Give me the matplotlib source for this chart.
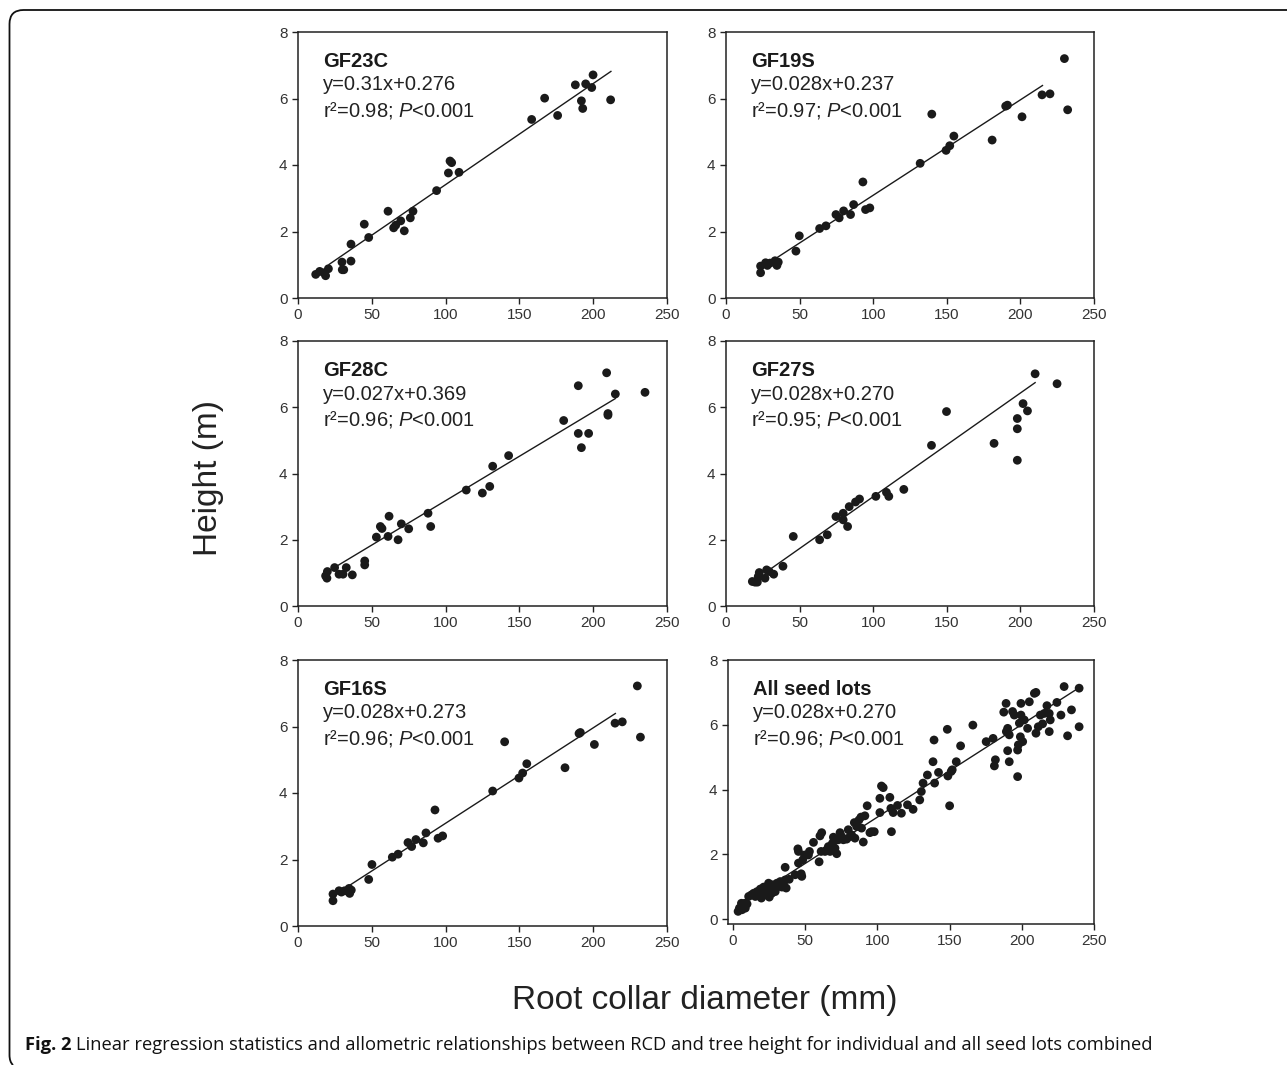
import matplotlib
matplotlib.use('Agg')
import matplotlib.pyplot as plt
from matplotlib.path import Path
from matplotlib.patches import PathPatch

plt.rcParams['font.family'] = ['Liberation Sans', 'DejaVu Sans']
plt.rcParams['mathtext.fontset'] = 'custom'
plt.rcParams['mathtext.rm'] = 'Liberation Sans'
plt.rcParams['mathtext.it'] = 'Liberation Sans:italic'
plt.rcParams['mathtext.bf'] = 'Liberation Sans:bold'

# ---------------- data ----------------
gf23c_x = [12.0, 14.7, 17.6, 18.7, 20.6, 29.8, 30.0, 31.0, 35.9, 35.9, 44.9, 47.9, 61.0, 64.8,
           66.2, 69.6, 72.0, 76.1, 77.9, 93.9, 101.9, 103.0, 104.1, 109.1, 158.3, 167.1, 175.9,
           187.9, 192.0, 192.9, 194.9, 199.0, 199.9, 211.8]
gf23c_y = [0.71, 0.80, 0.76, 0.67, 0.88, 1.08, 0.85, 0.85, 1.62, 1.11, 2.22, 1.82, 2.61, 2.11,
           2.19, 2.32, 2.02, 2.41, 2.61, 3.23, 3.76, 4.12, 4.07, 3.78, 5.37, 6.01, 5.49,
           6.41, 5.93, 5.70, 6.44, 6.33, 6.71, 5.96]

gf19s_x = [23.5, 23.5, 26.9, 28.1, 29.9, 33.3, 34.6, 35.5, 47.5, 49.8, 63.6, 67.9, 74.7, 76.9,
           79.9, 84.6, 86.7, 93.0, 94.8, 97.7, 131.9, 139.8, 149.5, 152.0, 154.8, 180.8,
           190.0, 191.2, 201.1, 214.7, 220.1, 229.9, 232.1]
gf19s_y = [0.76, 0.96, 1.06, 0.98, 1.05, 1.12, 0.98, 1.08, 1.41, 1.87, 2.09, 2.17, 2.51, 2.41,
           2.62, 2.51, 2.81, 3.49, 2.66, 2.71, 4.05, 5.53, 4.44, 4.58, 4.87, 4.75,
           5.77, 5.80, 5.45, 6.11, 6.14, 7.20, 5.66]

gf28c_x = [18.7, 19.6, 19.9, 24.8, 27.8, 30.5, 32.7, 36.8, 45.2, 45.2, 53.1, 55.8, 56.9, 61.0,
           61.7, 67.8, 70.0, 75.0, 88.1, 89.9, 114.0, 124.9, 129.9, 131.9, 142.7, 180.0,
           189.9, 189.9, 192.0, 196.9, 209.1, 210.0, 210.0, 215.0, 235.1]
gf28c_y = [0.91, 0.84, 1.04, 1.16, 0.96, 0.96, 1.16, 0.94, 1.36, 1.24, 2.08, 2.40, 2.34, 2.10,
           2.71, 2.00, 2.48, 2.33, 2.80, 2.40, 3.50, 3.41, 3.61, 4.22, 4.54, 5.60,
           6.65, 5.21, 4.78, 5.21, 7.04, 5.81, 5.76, 6.40, 6.45]

gf27s_x = [17.9, 19.7, 21.3, 21.9, 22.6, 26.5, 27.6, 29.4, 32.4, 38.7, 45.7, 63.6, 68.8, 74.7,
           79.6, 79.6, 82.6, 83.7, 88.0, 90.7, 101.8, 109.0, 110.6, 120.8, 139.6, 149.8,
           182.1, 197.9, 197.9, 197.9, 201.8, 204.8, 210.0, 224.9]
gf27s_y = [0.74, 0.72, 0.72, 0.89, 1.01, 0.84, 1.09, 1.04, 0.96, 1.20, 2.10, 2.00, 2.15, 2.70,
           2.80, 2.60, 2.40, 3.00, 3.14, 3.23, 3.31, 3.43, 3.31, 3.52, 4.85, 5.87,
           4.91, 5.66, 5.35, 4.40, 6.11, 5.89, 7.01, 6.71]

gf16s_x = [23.7, 23.7, 27.8, 29.4, 31.6, 34.6, 35.0, 36.1, 47.9, 50.1, 63.9, 67.8, 74.5, 77.0,
           79.9, 84.9, 86.7, 92.8, 94.9, 98.0, 131.9, 140.0, 149.7, 152.2, 155.0, 180.9,
           190.4, 191.3, 200.8, 214.8, 219.7, 229.9, 232.0]
gf16s_y = [0.76, 0.96, 1.06, 1.02, 1.06, 1.13, 0.98, 1.08, 1.40, 1.85, 2.07, 2.16, 2.51, 2.39,
           2.60, 2.50, 2.80, 3.49, 2.64, 2.71, 4.06, 5.54, 4.45, 4.60, 4.88, 4.76,
           5.79, 5.82, 5.46, 6.10, 6.14, 7.22, 5.68]

all_x = [3.5, 4.4, 5.8, 7.4, 8.5, 9.7, 6.2, 8.1, 10.8, 12.7, 14.3, 15.4, 16.6, 17.7, 18.9, 19.6,
         20.0, 21.2, 22.3, 23.5, 24.6, 25.1, 25.8, 26.9, 27.4, 28.8, 29.2, 30.4, 31.5, 32.7,
         33.8, 35.0, 36.1, 36.8, 36.1, 38.9, 43.0, 44.9, 45.3, 45.3, 47.2, 47.6, 48.3, 49.5,
         52.2, 52.9, 55.7, 59.6, 60.2, 61.4, 61.0, 63.7, 64.9, 66.0, 67.2, 68.8, 69.5, 70.6,
         71.8, 72.9, 74.1, 75.2, 76.4, 78.7, 79.8, 81.0, 82.1, 84.0, 84.4, 85.6, 87.2, 88.6,
         89.0, 90.2, 91.3, 92.9, 94.8, 95.9, 97.8, 101.7, 101.7, 102.8, 104.0, 108.6, 109.3,
         109.7, 110.9, 113.9, 116.6, 120.8, 124.7, 129.3, 130.4, 131.6, 134.6, 138.5, 139.2,
         139.6, 142.3, 148.4, 148.8, 150.0, 151.1, 151.8, 154.6, 157.6, 166.1, 175.3, 180.1,
         181.0, 181.7, 187.5, 189.1, 189.3, 190.2, 190.2, 191.3, 191.3, 193.6, 194.8, 197.1,
         197.1, 197.6, 198.3, 199.0, 199.4, 199.4, 200.6, 201.7, 204.0, 205.2, 208.7, 209.8,
         209.8, 211.4, 212.8, 214.4, 215.5, 217.4, 219.0, 219.0, 219.7, 224.3, 227.1, 229.3,
         231.7, 234.4, 239.7, 239.7]
all_y = [0.24, 0.34, 0.49, 0.41, 0.34, 0.47, 0.29, 0.49, 0.70, 0.75, 0.80, 0.70, 0.85, 0.75, 0.93, 0.65,
         0.82, 0.99, 0.75, 0.90, 1.11, 0.68, 0.96, 0.80, 1.06, 0.99, 0.85, 1.11, 1.01, 1.16,
         0.99, 1.06, 1.21, 0.96, 1.60, 1.23, 1.37, 2.17, 2.09, 1.73, 1.40, 1.32, 1.83, 1.98,
         1.98, 2.09, 2.37, 1.77, 2.57, 2.67, 2.09, 2.09, 2.14, 2.24, 2.09, 2.34, 2.53, 2.19,
         2.02, 2.45, 2.67, 2.55, 2.45, 2.47, 2.76, 2.55, 2.60, 2.98, 2.50, 2.86, 3.06, 3.15,
         2.81, 2.38, 3.19, 3.50, 2.67, 2.70, 2.70, 3.29, 3.73, 4.11, 4.06, 3.76, 3.42,
         2.70, 3.29, 3.51, 3.27, 3.53, 3.39, 3.68, 3.94, 4.20, 4.45, 4.86, 5.53,
         4.20, 4.53, 5.86, 4.42, 3.50, 4.56, 4.61, 4.86, 5.35, 5.99, 5.48, 5.58,
         4.73, 4.92, 6.39, 6.66, 5.79, 5.89, 5.20, 4.86, 5.69, 6.41, 6.30, 4.40,
         5.22, 5.38, 6.05, 5.63, 6.30, 6.66, 5.48, 6.15, 5.89, 6.71, 6.97, 7.00,
         5.74, 5.94, 6.30, 6.03, 6.35, 6.59, 6.35, 5.79, 6.15, 6.69, 6.30, 7.18,
         5.66, 6.46, 7.13, 5.94]

panel_names = ['GF23C', 'GF19S', 'GF28C', 'GF27S', 'GF16S', 'All seed lots']
panel_eqs = ['y=0.31x+0.276', 'y=0.028x+0.237', 'y=0.027x+0.369',
             'y=0.028x+0.270', 'y=0.028x+0.273', 'y=0.028x+0.270']
panel_r2 = ['0.98', '0.97', '0.96', '0.95', '0.96', '0.96']
# fitted line as drawn: slope, intercept, x-start, x-end
line_slope = [0.0304, 0.0287, 0.0268, 0.0313, 0.0287, 0.0286]
line_icpt = [0.37, 0.22, 0.50, 0.17, 0.22, 0.29]
line_x0 = [21, 24, 19, 28.7, 24, 3.5]
line_x1 = [212, 215, 215, 210, 215, 239.7]

xticks = [0, 50, 100, 150, 200, 250]
yticks = [0, 2, 4, 6, 8]

series_x = [gf23c_x, gf19s_x, gf28c_x, gf27s_x, gf16s_x, all_x]
series_y = [gf23c_y, gf19s_y, gf28c_y, gf27s_y, gf16s_y, all_y]

# ---------------- layout ----------------
W, H = 1287, 1065
fig = plt.figure(figsize=(W / 100, H / 100), dpi=100)

boxes = [(298, 32, 667, 298), (726, 32, 1094, 298),
         (298, 341, 667, 606), (726, 341, 1094, 606),
         (298, 660, 667, 926), (728, 660, 1094, 924)]
xlims = [(0, 250)] * 5 + [(-3.5, 250)]
ylims = [(0, 8)] * 5 + [(-0.15, 8)]

ink = '#1a1a1a'
for i in range(6):
    l, t, r, b = boxes[i]
    ax = fig.add_axes([l / W, 1 - b / H, (r - l) / W, (b - t) / H])
    ax.scatter(series_x[i], series_y[i], s=40, color=ink, edgecolors='none', zorder=3)
    lx = [line_x0[i], line_x1[i]]
    ly = [line_slope[i] * v + line_icpt[i] for v in lx]
    ax.plot(lx, ly, color=ink, lw=1.0, zorder=2)
    ax.set_xlim(*xlims[i])
    ax.set_ylim(*ylims[i])
    ax.set_xticks(xticks)
    ax.set_yticks(yticks)
    ax.tick_params(direction='out', length=4.3, width=1.0, colors='#222222',
                   labelcolor='#333333', labelsize=11, pad=3.2, top=False, right=False)
    for sp in ax.spines.values():
        sp.set_linewidth(1.1)
        sp.set_color('#222222')
    ax.annotate(panel_names[i], xy=(0, 1), xycoords='axes fraction', xytext=(25, -34.7),
                textcoords='offset pixels', fontsize=14.5, fontweight='bold', color=ink,
                va='baseline', ha='left')
    ax.annotate(panel_eqs[i], xy=(0, 1), xycoords='axes fraction', xytext=(25, -58.5),
                textcoords='offset pixels', fontsize=14.5, color='#222222',
                va='baseline', ha='left')
    ax.annotate('r\u00b2=' + panel_r2[i] + '; $P$<0.001', xy=(0, 1), xycoords='axes fraction',
                xytext=(25, -84.5), textcoords='offset pixels', fontsize=14.5, color='#222222',
                va='baseline', ha='left')

fig.text(208 / W, 1 - 478 / H, 'Height (m)', rotation=90, fontsize=24, color='#222222',
         ha='center', va='center')
fig.text(705 / W, 1 - 1000 / H, 'Root collar diameter (mm)', fontsize=24, color='#222222',
         ha='center', va='center')

# caption
cap_base = 1 - 1050 / H
t1 = fig.text(25 / W, cap_base, 'Fig. 2', fontsize=13.2, fontweight='bold',
              family=['Open Sans', 'DejaVu Sans'], color='#111111', va='baseline')
renderer = fig.canvas.get_renderer()
bb = t1.get_window_extent(renderer=renderer)
fig.text((bb.x1 + 5) / W, cap_base,
         'Linear regression statistics and allometric relationships between RCD and tree height '
         'for individual and all seed lots combined', fontsize=13.2,
         family=['Open Sans', 'DejaVu Sans'], color='#111111', va='baseline')

# rounded frame (top-left corner), in figure pixels
def P(x, y):
    return (x / W, 1 - y / H)

verts = [P(13, 1065), P(9.5, 1062), P(9.5, 1055), P(9.5, 24), P(9.5, 10), P(23.5, 10), P(1287, 10)]
codes = [Path.MOVETO, Path.CURVE3, Path.CURVE3, Path.LINETO, Path.CURVE3, Path.CURVE3, Path.LINETO]
frame = PathPatch(Path(verts, codes), transform=fig.transFigure, fill=False,
                  edgecolor='#111111', lw=1.3)
fig.patches.append(frame)

fig.savefig('out.png', dpi=100)
